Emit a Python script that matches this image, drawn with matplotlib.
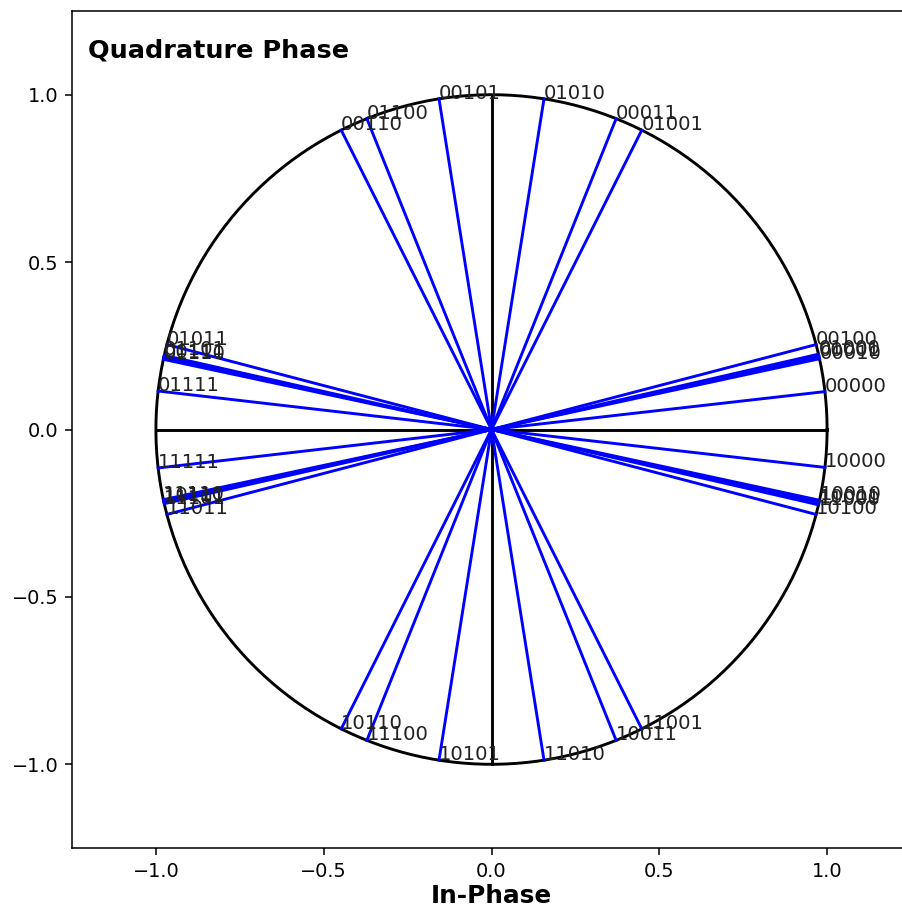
import matplotlib.pyplot as plt
import numpy as np

codes = ['00000', '00001', '00010', '00011', '00100', '00101', '00110', '00111',
         '01000', '01001', '01010', '01011', '01100', '01101', '01110', '01111',
         '10000', '10001', '10010', '10011', '10100', '10101', '10110', '10111',
         '11000', '11001', '11010', '11011', '11100', '11101', '11110', '11111']
angles = [6.5, 12.6, 12.2, 68.2, 14.7, 99.0, 116.6, 167.6,
          13.0, 63.4, 81.0, 165.3, 111.8, 167.2, 167.9, 173.4,
          -6.5, -12.6, -12.2, -68.2, -14.7, -99.0, -116.6, -167.6,
          -13.0, -63.4, -81.0, -165.3, -111.8, -167.2, -167.9, -173.4]
ticks = [-1.0, -0.5, 0.0, 0.5, 1.0]

I = np.cos(np.radians(angles))
Q = np.sin(np.radians(angles))

dpi = 139
fig = plt.figure(figsize=(902 / dpi, 911 / dpi), dpi=dpi)
ax = fig.add_axes([72 / 902, 63 / 911, 839 / 902, 837 / 911])

t = np.linspace(0, 2 * np.pi, 400)
ax.plot(np.cos(t), np.sin(t), c='black')
ax.plot([-1, 1], [0, 0], c='black')
ax.plot([0, 0], [-1, 1], c='black')

for code, x, y in zip(codes, I, Q):
    ax.plot([0, x], [0, y], c='blue')
    ax.text(x, y, code, fontsize=10.2, color='#222222')

ax.set_xlim(-1.25, 1.25)
ax.set_ylim(-1.25, 1.25)
ax.set_xticks(ticks)
ax.set_yticks(ticks)
ax.text(0.019, 0.945, 'Quadrature Phase', transform=ax.transAxes,
        fontsize=13.2, fontweight='bold', va='baseline')
ax.set_xlabel('In-Phase', fontsize=12.8, fontweight='bold', labelpad=2)

fig.savefig('out.png', dpi=dpi)
